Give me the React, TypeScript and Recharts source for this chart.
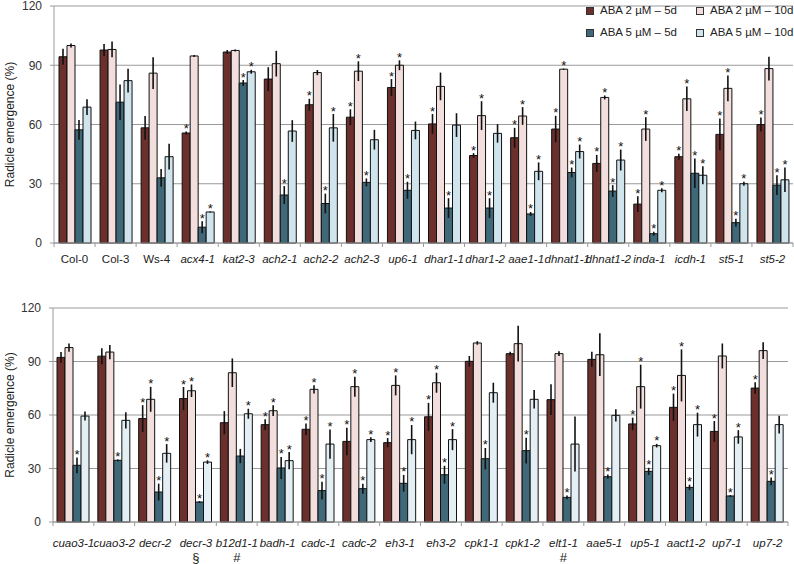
import React from 'react';
import { BarChart, Bar, XAxis, YAxis, CartesianGrid, ErrorBar, LabelList } from 'recharts';

const FONT = '"Liberation Sans", Arial, sans-serif';
const AXIS = '#9a9a9a';

const SERIES = ['ABA 2 µM – 5d', 'ABA 2 µM – 10d', 'ABA 5 µM – 5d', 'ABA 5 µM – 10d'];
const COLORS_TOP = ['#6b2f2c', '#f2dfdd', '#3f6878', '#cfe4ec'];
const COLORS_BOTTOM = ['#6b2f2c', '#f2dfdd', '#3f6878', '#e3eff4'];
const Y_TICKS = [0, 30, 60, 90, 120];
const CONTROLS = ['Col-0', 'Col-3', 'Ws-4'];

// top panel
const TOP_LINES = ['Col-0', 'Col-3', 'Ws-4', 'acx4-1', 'kat2-3', 'ach2-1', 'ach2-2', 'ach2-3', 'up6-1',
  'dhar1-1', 'dhar1-2', 'aae1-1', 'dhnat1-1', 'dhnat1-2', 'inda-1', 'icdh-1', 'st5-1', 'st5-2'];
const TOP_NOTES = ['', '', '', '', '', '', '', '', '', '', '', '', '', '', '', '', '', ''];

const TOP_A2_5 = [94.3, 97.7, 58.3, 55.7, 96.7, 83, 70, 63.7, 78.7, 60.3, 44.3, 53.3, 57.7, 40.3, 19.7, 43.7, 55, 60];
const TOP_A2_5_ERR = [4, 3, 6, 0.7, 1, 6, 3, 4, 4.3, 5, 1.2, 5, 6.7, 4.3, 4, 1.5, 8, 3.5];
const TOP_A2_5_SIG = [0, 0, 0, 1, 0, 0, 1, 1, 1, 1, 1, 1, 1, 1, 1, 1, 1, 1];

const TOP_A2_10 = [100, 98, 86, 94.7, 97.5, 90.8, 86.3, 87, 90, 79.3, 64.5, 64.3, 88, 73.7, 57.7, 73, 78.3, 88.3];
const TOP_A2_10_ERR = [1, 4, 8, 0.5, 0.5, 6.5, 1.3, 5, 2.5, 7, 7.3, 4.5, 0.3, 1, 6, 6.2, 6.5, 6];
const TOP_A2_10_SIG = [0, 0, 0, 0, 0, 0, 0, 1, 1, 0, 1, 1, 1, 1, 1, 1, 1, 0];

const TOP_A5_5 = [57.3, 71.3, 33, 8, 81, 24.3, 20, 30.7, 26.7, 17.7, 17.7, 14.7, 35.7, 26.3, 4.7, 35.3, 10.3, 29.3];
const TOP_A5_5_ERR = [5, 9, 4.5, 3, 1.5, 4.5, 5, 2, 4.3, 5, 5, 1, 2.5, 3, 1, 7.5, 2, 5];
const TOP_A5_5_SIG = [0, 0, 0, 1, 1, 1, 1, 1, 1, 1, 1, 1, 1, 1, 1, 1, 1, 1];

const TOP_A5_10 = [68.8, 82.2, 43.7, 15.7, 86.7, 56.7, 58.3, 52.3, 57, 59.7, 55.5, 36.3, 46.3, 42, 26.7, 34.3, 30, 32];
const TOP_A5_10_ERR = [4, 6, 6.5, 0.2, 1, 5.5, 7, 5, 4.5, 6, 4.7, 4.5, 3.5, 5.3, 1, 4.5, 1, 6.2];
const TOP_A5_10_SIG = [0, 0, 0, 1, 1, 0, 1, 0, 0, 0, 0, 1, 1, 1, 1, 1, 1, 1];

// bottom panel
const BOT_LINES = ['cuao3-1', 'cuao3-2', 'decr-2', 'decr-3', 'b12d1-1', 'badh-1', 'cadc-1', 'cadc-2', 'eh3-1',
  'eh3-2', 'cpk1-1', 'cpk1-2', 'elt1-1', 'aae5-1', 'up5-1', 'aact1-2', 'up7-1', 'up7-2'];
const BOT_NOTES = ['', '', '', '§', '#', '', '', '', '', '', '', '', '#', '', '', '', '', ''];

const BOT_A2_5 = [92.3, 93, 58, 69.2, 55.7, 54.6, 52, 45.2, 44.5, 59, 90.1, 94.4, 68.6, 91.2, 55, 64.3, 50.8, 75.1];
const BOT_A2_5_ERR = [3, 4.5, 7.5, 6.5, 6.5, 3, 3.3, 7.7, 2.6, 7.8, 3, 1, 8.6, 4.2, 3.5, 7.7, 5.8, 3.2];
const BOT_A2_5_SIG = [0, 0, 1, 1, 0, 1, 1, 1, 1, 1, 0, 0, 0, 0, 1, 1, 1, 1];

const BOT_A2_10 = [97.8, 95.3, 68.8, 73.6, 83.7, 62.4, 74.4, 75.9, 76.6, 78.1, 100.4, 100, 94.4, 93.8, 75.9, 82.2, 93.1, 96.1];
const BOT_A2_10_ERR = [2.3, 4, 7, 3.5, 8, 3, 2.3, 5.6, 5.6, 5.6, 1, 10, 1.3, 12, 12.3, 14.6, 7, 4.7];
const BOT_A2_10_SIG = [0, 0, 1, 1, 0, 1, 1, 1, 1, 1, 0, 0, 0, 0, 1, 1, 0, 0];

const BOT_A5_5 = [31.8, 34.6, 16.8, 11.2, 37, 30.3, 17.6, 18.7, 21.7, 26.5, 35.5, 40, 13.8, 25.4, 28.4, 19.4, 14.6, 22.8];
const BOT_A5_5_ERR = [4.4, 0.5, 4.7, 0.5, 4, 6.2, 5, 2.8, 4.7, 5, 6, 7.2, 1, 1.2, 2, 1.5, 0.5, 2.2];
const BOT_A5_5_SIG = [1, 1, 1, 1, 0, 1, 1, 1, 1, 1, 1, 1, 1, 1, 1, 1, 1, 1];

const BOT_A5_10 = [59.4, 57, 38.5, 33.6, 60.7, 34.4, 43.7, 46.2, 46.2, 46.2, 72.5, 68.8, 43.7, 59.8, 42.8, 54.6, 47.7, 54.6];
const BOT_A5_10_ERR = [2.5, 4.5, 5.2, 1, 2.8, 4.8, 8.2, 1.3, 8.2, 5.9, 5.6, 5.2, 15.4, 3.4, 1, 6.7, 3.8, 5];
const BOT_A5_10_SIG = [0, 0, 1, 1, 1, 1, 1, 1, 1, 1, 0, 0, 0, 0, 1, 1, 1, 0];

type Row = Record<string, any>;

function buildRows(names: string[], notes: string[], vals: number[][], errs: number[][], sigs: number[][]): Row[] {
  return names.map((name, i) => {
    const r: Row = { name, note: notes[i] };
    vals.forEach((v, s) => {
      r[`v${s}`] = v[i];
      r[`e${s}`] = errs[s][i];
      r[`s${s}`] = sigs[s][i];
    });
    return r;
  });
}

const topRows = buildRows(TOP_LINES, TOP_NOTES,
  [TOP_A2_5, TOP_A2_10, TOP_A5_5, TOP_A5_10],
  [TOP_A2_5_ERR, TOP_A2_10_ERR, TOP_A5_5_ERR, TOP_A5_10_ERR],
  [TOP_A2_5_SIG, TOP_A2_10_SIG, TOP_A5_5_SIG, TOP_A5_10_SIG]);

const botRows = buildRows(BOT_LINES, BOT_NOTES,
  [BOT_A2_5, BOT_A2_10, BOT_A5_5, BOT_A5_10],
  [BOT_A2_5_ERR, BOT_A2_10_ERR, BOT_A5_5_ERR, BOT_A5_10_ERR],
  [BOT_A2_5_SIG, BOT_A2_10_SIG, BOT_A5_5_SIG, BOT_A5_10_SIG]);

// asterisk sits just above the error bar; error length converted with the bar's own px/unit
const starContent = (rows: Row[], s: number) => (props: any) => {
  const { x, y, width, height, index } = props;
  const r = rows[index];
  if (!r || !r[`s${s}`]) return null;
  const v = r[`v${s}`];
  const perUnit = v ? Number(height) / v : 0;
  const top = Number(y) - r[`e${s}`] * perUnit;
  return (
    <text x={Number(x) + Number(width) / 2} y={top + 1.5} textAnchor="middle" fontSize={13} fill="#111" fontFamily={FONT}>*</text>
  );
};

const makeTick = (rows: Row[], band: number, labelDy: number) => (props: any) => {
  const { x, y, payload, index } = props;
  const italic = !CONTROLS.includes(payload.value);
  const note = rows[index] ? rows[index].note : '';
  return (
    <g>
      <line x1={x - band / 2} x2={x - band / 2} y1={y} y2={y + 4} stroke={AXIS} />
      {index === rows.length - 1 && <line x1={x + band / 2} x2={x + band / 2} y1={y} y2={y + 4} stroke={AXIS} />}
      <text x={x} y={y + labelDy} textAnchor="middle" fontSize={11.5} fill="#222" fontFamily={FONT}
        fontStyle={italic ? 'italic' : 'normal'}>{payload.value}</text>
      {note && <text x={x} y={y + labelDy + 15} textAnchor="middle" fontSize={13} fill="#222" fontFamily={FONT}>{note}</text>}
    </g>
  );
};

const yLabel = (props: any) => {
  const vb = props.viewBox;
  const cx = 10;
  const cy = vb.y + vb.height / 2;
  return (
    <text x={cx} y={cy} transform={`rotate(-90 ${cx} ${cy})`} textAnchor="middle" dominantBaseline="central"
      fontSize={12} fill="#222" fontFamily={FONT}>Radicle emergence (%)</text>
  );
};

interface PanelProps {
  rows: Row[];
  colors: string[];
  width: number;
  height: number;
  top: number;
  bottomH: number;
  yw: number;
  right: number;
  labelDy: number;
}

function Panel({ rows, colors, width, height, top, bottomH, yw, right, labelDy }: PanelProps) {
  const band = (width - yw - right) / rows.length;
  return (
    <BarChart width={width} height={height} data={rows} margin={{ top, right, left: 0, bottom: 0 }}
      barSize={8} barGap={0} barCategoryGap={0}>
      <CartesianGrid vertical={false} stroke={AXIS} strokeWidth={1} />
      <XAxis dataKey="name" interval={0} height={bottomH} tickLine={false} tickSize={0} tickMargin={0}
        axisLine={{ stroke: AXIS }} tick={makeTick(rows, band, labelDy)} />
      <YAxis width={yw} domain={[0, 120]} ticks={Y_TICKS} interval={0} tickSize={4} tickMargin={8}
        axisLine={{ stroke: AXIS }} tickLine={{ stroke: AXIS }}
        tick={{ fontSize: 12, fill: '#333', fontFamily: FONT }} label={{ content: yLabel }} />
      {colors.map((c, s) => (
        <Bar key={s} dataKey={`v${s}`} name={SERIES[s]} fill={c} stroke="#111" strokeWidth={1} isAnimationActive={false}>
          <ErrorBar dataKey={`e${s}`} width={0} stroke="#111" strokeWidth={1.6} direction="y" isAnimationActive={false} />
          <LabelList dataKey={`s${s}`} content={starContent(rows, s)} />
        </Bar>
      ))}
    </BarChart>
  );
}

function LegendBox() {
  const pos = [[586, 6], [696, 6], [586, 28], [696, 28]];
  return (
    <>
      {SERIES.map((name, s) => (
        <div key={s} style={{ position: 'absolute', left: pos[s][0], top: pos[s][1], display: 'flex', alignItems: 'center',
          fontFamily: FONT, fontSize: 11.5, color: '#222', whiteSpace: 'nowrap', lineHeight: '9px' }}>
          <span style={{ display: 'inline-block', width: 6, height: 6, background: COLORS_TOP[s], border: '1px solid #333', marginRight: 6 }} />
          {name}
        </div>
      ))}
    </>
  );
}

export default function App() {
  return (
    <div style={{ position: 'absolute', left: 0, top: 0, width: 794, height: 564, background: '#fff' }}>
      <div style={{ position: 'absolute', left: 0, top: 0 }}>
        <Panel rows={topRows} colors={COLORS_TOP} width={794} height={285} top={6} bottomH={42} yw={54} right={1} labelDy={20} />
      </div>
      <div style={{ position: 'absolute', left: 0, top: 285 }}>
        <Panel rows={botRows} colors={COLORS_BOTTOM} width={794} height={279} top={23} bottomH={42} yw={53} right={6} labelDy={25} />
      </div>
      <LegendBox />
    </div>
  );
}
